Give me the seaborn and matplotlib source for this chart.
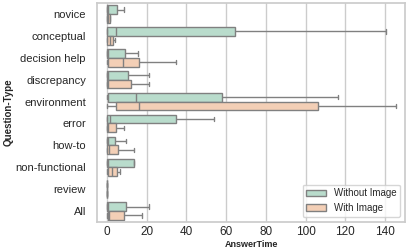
import pandas as pd
import seaborn as sns
import matplotlib.pyplot as plt

# box stats: lower whisker, q1, median, q3, upper whisker
categories = ["novice", "conceptual", "decision help", "discrepancy", "environment",
              "error", "how-to", "non-functional", "review", "All"]
groups = ["Without Image", "With Image"]

wo_lo = [0.0, 0.0, 0.0, 0.0, 0.0, 0.0, 0.0, 0.0, 0.0, 0.0]
wo_q1 = [0.2, 0.3, 0.2, 0.2, 0.8, 0.2, 0.2, 0.2, 0.0, 0.2]
wo_med = [0.8, 4.8, 0.6, 0.6, 14.6, 1.8, 0.6, 0.5, 0.0, 0.6]
wo_q3 = [5.3, 64.5, 9.2, 10.4, 57.8, 34.7, 4.3, 13.9, 0.0, 9.4]
wo_hi = [8.5, 140.4, 15.9, 21.3, 116.4, 53.9, 9.4, 13.9, 0.0, 21.4]

wi_lo = [0.0, 0.0, 0.0, 0.0, 0.0, 0.0, 0.0, 0.0, 0.0, 0.0]
wi_q1 = [0.1, 0.3, 0.8, 0.2, 4.8, 0.2, 0.2, 0.5, 0.0, 0.5]
wi_med = [0.5, 1.7, 7.9, 0.6, 16.4, 0.6, 1.0, 2.5, 0.0, 1.0]
wi_q3 = [1.5, 3.3, 16.4, 12.0, 106.0, 4.8, 5.8, 5.0, 0.0, 8.7]
wi_hi = [1.5, 4.2, 34.8, 21.3, 145.4, 8.5, 13.9, 6.7, 0.0, 17.6]


def main():
    rows = []
    stats = {"Without Image": (wo_lo, wo_q1, wo_med, wo_q3, wo_hi),
             "With Image": (wi_lo, wi_q1, wi_med, wi_q3, wi_hi)}
    for g in groups:
        cols = stats[g]
        for i, cat in enumerate(categories):
            # five points -> quartiles land exactly on the 2nd/3rd/4th value
            for v in [c[i] for c in cols]:
                rows.append({"Question-Type": cat, "AnswerTime": v, "Image": g})
    df = pd.DataFrame(rows)

    sns.set_theme(style="whitegrid")
    plt.rcParams["font.family"] = ["Liberation Sans", "DejaVu Sans"]

    fig, ax = plt.subplots(figsize=(4.15, 2.52), dpi=100)
    sns.boxplot(data=df, x="AnswerTime", y="Question-Type", hue="Image",
                order=categories, hue_order=groups, palette="Pastel2",
                whis=(0, 100), showfliers=False, linewidth=1,
                linecolor="0.5", ax=ax)

    ax.set_xlim(-4.9, 150)
    ax.set_xticks([0, 20, 40, 60, 80, 100, 120, 140])
    ax.tick_params(axis="x", labelsize=8.5, length=0, pad=3)
    ax.tick_params(axis="y", labelsize=8, length=0, pad=8)
    ax.set_xlabel("AnswerTime", fontsize=6.5, fontweight="bold")
    ax.set_ylabel("Question-Type", fontsize=7, fontweight="bold")
    ax.xaxis.set_label_coords(0.5, -0.08)
    ax.yaxis.set_label_coords(-0.27, 0.5)
    ax.legend(loc="lower right", fontsize=7, title=None)

    fig.subplots_adjust(left=0.234, right=0.976, top=0.988, bottom=0.119)
    fig.savefig("out.png", dpi=100)
    plt.close(fig)


if __name__ == "__main__":
    main()
